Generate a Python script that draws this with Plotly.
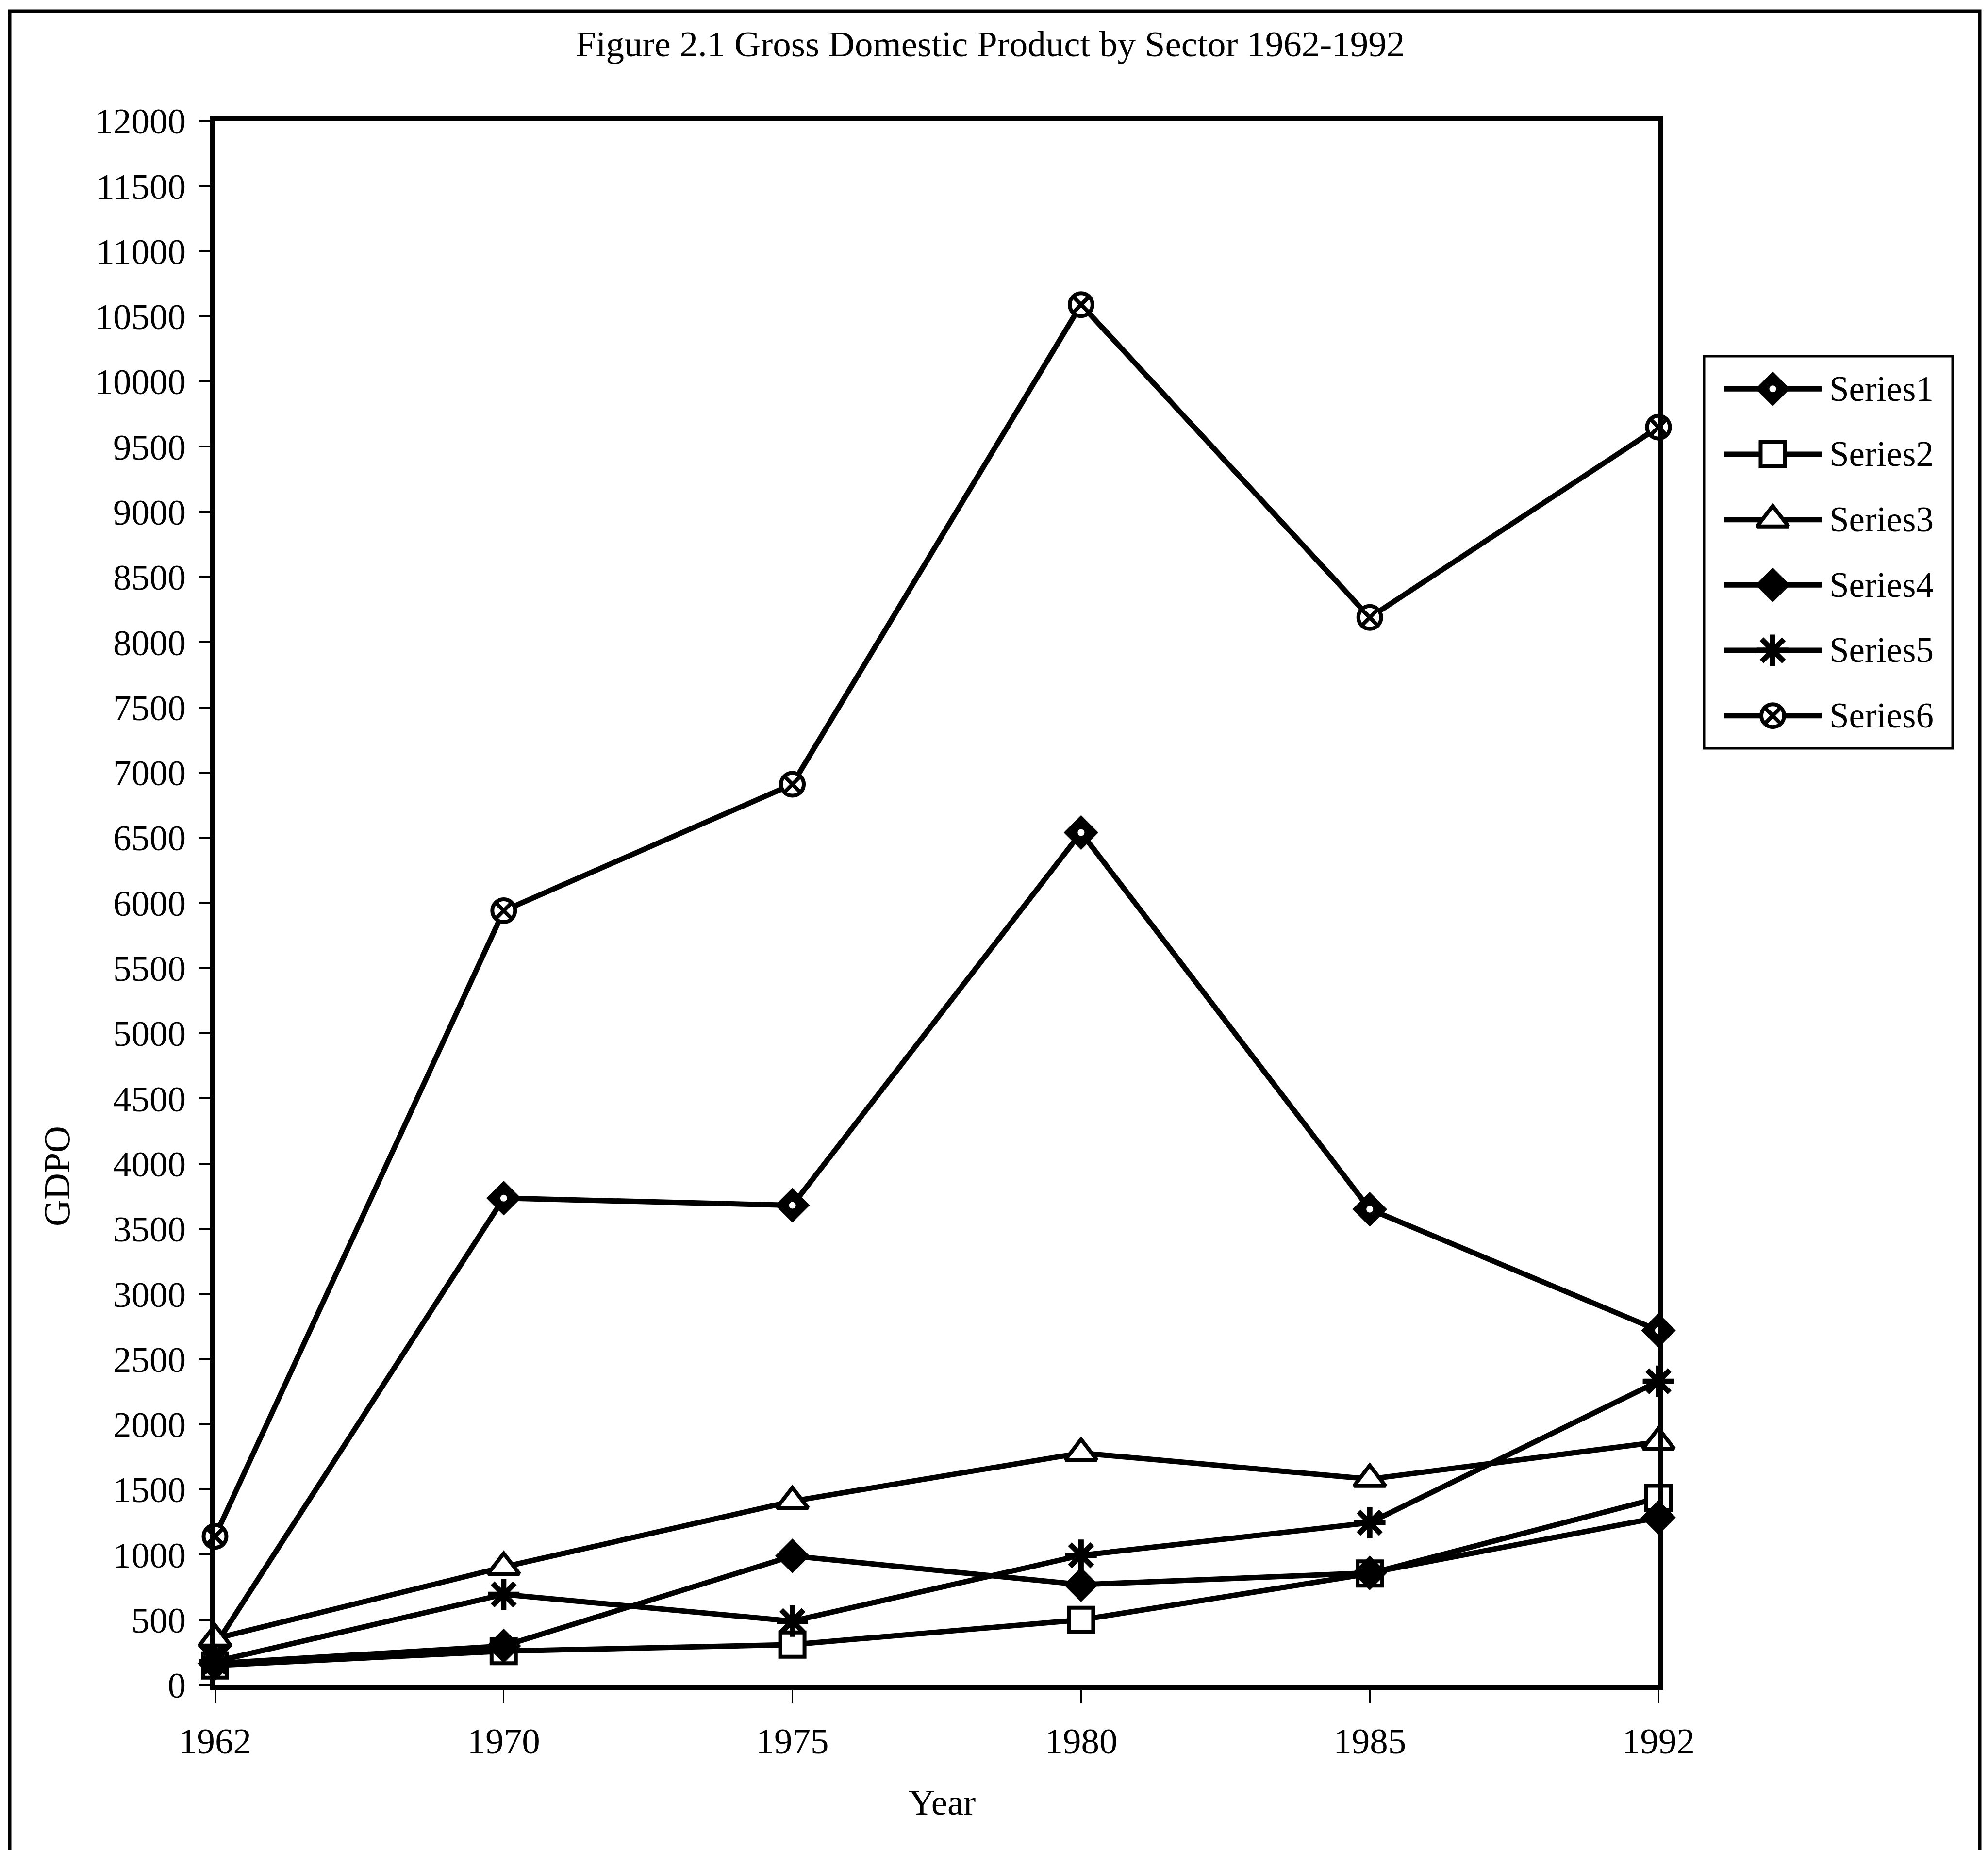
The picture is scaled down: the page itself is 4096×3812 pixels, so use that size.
import plotly.graph_objects as go

# ---- data -------------------------------------------------------------
years = ["1962", "1970", "1975", "1980", "1985", "1992"]
series_names = ["Series1", "Series2", "Series3", "Series4", "Series5", "Series6"]

series1 = [300, 3735, 3680, 6540, 3650, 2720]
series2 = [150, 260, 310, 500, 855, 1435]
series3 = [355, 905, 1410, 1780, 1580, 1865]
series4 = [165, 300, 990, 770, 860, 1285]
series5 = [180, 695, 490, 995, 1245, 2330]
series6 = [1140, 5940, 6910, 10590, 8190, 9650]

y_tick_values = [0, 500, 1000, 1500, 2000, 2500, 3000, 3500, 4000, 4500, 5000,
                 5500, 6000, 6500, 7000, 7500, 8000, 8500, 9000, 9500, 10000,
                 10500, 11000, 11500, 12000]

title_text = "Figure 2.1 Gross Domestic Product by Sector 1962-1992"
x_title = "Year"
y_title = "GDPO"

# ---- page geometry (pixels) -----------------------------------------
W, H = 4096, 3812
PL, PR, PT, PB = 443, 3417, 249, 3472          # plot area edges
KEY_TOP, KEY_BOTTOM = 734, 1542                # key frame, vertical extent
FONT = "Liberation Serif"


def fx(p):
    return p / W


def fy(p):
    return 1 - p / H


# marker styles per series
styles = {
    "Series1": dict(symbol="diamond", size=55, color="black",
                    line=dict(color="black", width=0)),
    "Series2": dict(symbol="square", size=50, color="white",
                    line=dict(color="black", width=8)),
    "Series3": dict(symbol="triangle-up", size=56, color="white",
                    line=dict(color="black", width=8)),
    "Series4": dict(symbol="diamond", size=55, color="black",
                    line=dict(color="black", width=0)),
    "Series5": dict(symbol="asterisk-open", size=54, color="black",
                    line=dict(color="black", width=11)),
    "Series6": dict(symbol="circle-x", size=47, color="white",
                    line=dict(color="black", width=8)),
}
# Series1 diamonds carry a small white centre
hole_style = dict(symbol="circle", size=14, color="white",
                  line=dict(color="white", width=0))

values = [series1, series2, series3, series4, series5, series6]
LINE_W = 11

fig = go.Figure()

for name, vals in zip(series_names, values):
    fig.add_trace(go.Scatter(
        x=years, y=vals, name=name, mode="lines+markers",
        line=dict(color="black", width=LINE_W),
        marker=styles[name], cliponaxis=False,
        xaxis="x", yaxis="y", showlegend=False, hoverinfo="skip",
    ))
    if name == "Series1":
        fig.add_trace(go.Scatter(
            x=years, y=vals, mode="markers", marker=hole_style,
            cliponaxis=False, xaxis="x", yaxis="y",
            showlegend=False, hoverinfo="skip",
        ))

# ---- key (drawn on its own small axes) -------------------------------
for i, name in enumerate(series_names):
    fig.add_trace(go.Scatter(
        x=[0, 1], y=[i, i], mode="lines",
        line=dict(color="black", width=LINE_W),
        xaxis="x3", yaxis="y3", showlegend=False, hoverinfo="skip",
        cliponaxis=False,
    ))
    fig.add_trace(go.Scatter(
        x=[0.5], y=[i], mode="markers", marker=styles[name],
        xaxis="x3", yaxis="y3", showlegend=False, hoverinfo="skip",
        cliponaxis=False,
    ))
    if name == "Series1":
        fig.add_trace(go.Scatter(
            x=[0.5], y=[i], mode="markers", marker=hole_style,
            xaxis="x3", yaxis="y3", showlegend=False, hoverinfo="skip",
            cliponaxis=False,
        ))

annotations = [
    dict(text=title_text, x=fx(2040), y=fy(90), xref="paper", yref="paper",
         xanchor="center", yanchor="middle", showarrow=False,
         font=dict(family=FONT, size=75, color="black")),
    dict(text=x_title, x=fx(1941), y=fy(3713), xref="paper", yref="paper",
         xanchor="center", yanchor="middle", showarrow=False,
         font=dict(family=FONT, size=75, color="black")),
    dict(text=y_title, x=fx(117), y=fy(2424), xref="paper", yref="paper",
         xanchor="center", yanchor="middle", showarrow=False, textangle=-90,
         font=dict(family=FONT, size=76, color="black")),
]
for i, name in enumerate(series_names):
    annotations.append(dict(
        text=name, x=1, y=i, xref="x3", yref="y3", xanchor="left",
        yanchor="middle", xshift=14, showarrow=False,
        font=dict(family=FONT, size=73, color="black")))

shapes = [
    # key frame
    dict(type="rect", xref="paper", yref="paper",
         x0=fx(3511), x1=fx(4023), y0=fy(KEY_BOTTOM), y1=fy(KEY_TOP),
         line=dict(color="black", width=5), fillcolor="rgba(0,0,0,0)"),
    # outer page frame (left, top, right)
    dict(type="path", xref="paper", yref="paper",
         path=f"M {fx(20)},{fy(H)} L {fx(20)},{fy(23)} L {fx(4079)},{fy(23)} L {fx(4079)},{fy(H)}",
         line=dict(color="black", width=7)),
]

axis_common = dict(showgrid=False, zeroline=False, color="black",
                   automargin=False)

n_keys = len(series_names)

fig.update_layout(
    template="none",
    width=W, height=H, autosize=False,
    margin=dict(l=0, r=0, t=0, b=0, pad=0),
    paper_bgcolor="white", plot_bgcolor="white",
    showlegend=False,
    font=dict(family=FONT, size=75, color="black"),
    xaxis=dict(
        domain=[fx(PL), fx(PR)], anchor="y", type="category",
        categoryorder="array", categoryarray=years, range=[0, len(years) - 1],
        showline=True, linecolor="black", linewidth=10, mirror=True,
        ticks="outside", ticklen=27, tickwidth=3, tickcolor="black",
        tickfont=dict(family=FONT, size=75, color="black"),
        ticklabelstandoff=14,
        **axis_common,
    ),
    yaxis=dict(
        domain=[fy(PB), fy(PT)], anchor="x", range=[0, 12000],
        tickvals=y_tick_values, ticktext=[str(v) for v in y_tick_values],
        showline=True, linecolor="black", linewidth=10, mirror=True,
        ticks="outside", ticklen=23, tickwidth=4, tickcolor="black",
        tickfont=dict(family=FONT, size=75, color="black"),
        ticklabelstandoff=12,
        **axis_common,
    ),
    # inner halves of the crossing tick marks
    xaxis2=dict(
        domain=[fx(PL), fx(PR)], anchor="y", overlaying="x", type="linear",
        range=[0, len(years) - 1], tickvals=list(range(len(years))),
        ticks="inside", ticklen=15, tickwidth=3, tickcolor="black",
        showticklabels=False, showline=False, **axis_common,
    ),
    yaxis2=dict(
        domain=[fy(PB), fy(PT)], anchor="x", overlaying="y", range=[0, 12000],
        tickvals=y_tick_values, ticks="inside", ticklen=23, tickwidth=4,
        tickcolor="black", showticklabels=False, showline=False, **axis_common,
    ),
    # key axes: one row per series, half a row of padding at each end
    xaxis3=dict(domain=[fx(3552), fx(3753)], anchor="y3", range=[0, 1],
                visible=False, **axis_common),
    yaxis3=dict(domain=[fy(KEY_BOTTOM), fy(KEY_TOP)], anchor="x3",
                range=[n_keys - 0.5, -0.5], visible=False, **axis_common),
    annotations=annotations,
    shapes=shapes,
)

fig.write_html("out.html")
